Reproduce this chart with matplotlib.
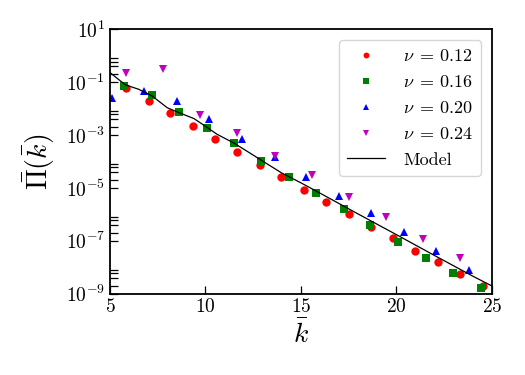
import matplotlib
matplotlib.use("Agg")
import matplotlib.pyplot as plt
import matplotlib.ticker as mticker
import numpy as np

plt.rcParams['font.family'] = 'serif'
plt.rcParams['font.serif'] = ['cmr10']
plt.rcParams['mathtext.fontset'] = 'cm'
plt.rcParams['axes.formatter.use_mathtext'] = True

# log10 of Pi(k) for each nu
# nu = 0.12
k_012 = [5.84, 7.02, 8.15, 9.35, 10.48, 11.67, 12.85, 13.98, 15.15, 16.33,
         17.50, 18.66, 19.81, 20.98, 22.16, 23.33, 24.51]
logp_012 = [-1.21, -1.70, -2.18, -2.65, -3.16, -3.63, -4.13, -4.60, -5.07, -5.54,
            -6.00, -6.48, -6.90, -7.37, -7.81, -8.25, -8.71]
# nu = 0.16
k_016 = [5.75, 7.18, 8.62, 10.07, 11.49, 12.92, 14.36, 15.81, 17.24, 18.63,
         20.10, 21.54, 22.98, 24.41]
logp_016 = [-1.13, -1.49, -2.12, -2.72, -3.31, -3.97, -4.60, -5.20, -5.80, -6.39,
            -7.06, -7.66, -8.22, -8.79]
# nu = 0.20
k_020 = [5.10, 6.79, 8.50, 10.19, 11.89, 13.63, 15.29, 17.01, 18.66, 20.37,
         22.08, 23.78]
logp_020 = [-1.59, -1.32, -1.71, -2.39, -3.15, -3.84, -4.57, -5.29, -5.96, -6.68,
            -7.40, -8.10]
# nu = 0.24
k_024 = [5.84, 7.80, 9.72, 11.67, 13.63, 15.58, 17.53, 19.46, 21.41, 23.33]
logp_024 = [-0.66, -0.50, -2.24, -2.94, -3.79, -4.51, -5.36, -6.12, -6.93, -7.66]

# model curve
k_model = [5.0, 5.8, 6.5, 7.2, 8.0, 8.6, 9.4, 10.0, 10.6, 11.5, 12.3, 13.0,
           14.0, 15.0, 16.0, 18.0, 20.0, 22.0, 24.0, 25.0]
logp_model = [-0.64, -1.10, -1.27, -1.52, -1.97, -2.15, -2.38, -2.67, -2.97, -3.31,
              -3.67, -3.99, -4.44, -4.81, -5.20, -5.99, -6.77, -7.56, -8.34, -8.71]

series = [
    (k_012, logp_012, 'red', 'o', r'$\nu\;=\,0.12$'),
    (k_016, logp_016, 'green', 's', r'$\nu\;=\,0.16$'),
    (k_020, logp_020, 'blue', '^', r'$\nu\;=\,0.20$'),
    (k_024, logp_024, 'm', 'v', r'$\nu\;=\,0.24$'),
]

major_y = [1e1, 1e-1, 1e-3, 1e-5, 1e-7, 1e-9]
minor_subs = [2, 4, 6, 8]

fig = plt.figure(figsize=(5.25, 3.75), dpi=100)
ax = fig.add_axes([0.2095, 0.217, 0.7275, 0.705])

for k, lp, c, m, lab in series:
    ax.plot(k, 10.0 ** np.array(lp), linestyle='none', marker=m, color=c,
            markersize=6, markeredgewidth=0, label=lab)
ax.plot(k_model, 10.0 ** np.array(logp_model), color='black', lw=0.9, label='Model')

ax.set_yscale('log')
ax.set_xlim(5, 25)
ax.set_ylim(1e-9, 1e1)
ax.set_xticks([5, 10, 15, 20, 25])
ax.yaxis.set_major_locator(mticker.FixedLocator(major_y))
ax.yaxis.set_minor_locator(mticker.FixedLocator(
    [s * v for v in major_y[1:] for s in minor_subs]))
ax.yaxis.set_minor_formatter(mticker.NullFormatter())

ax.tick_params(which='both', direction='in', top=False, right=False, labelsize=14)
ax.tick_params(which='both', length=5.5, width=0.9)
for s in ax.spines.values():
    s.set_linewidth(1.3)

ax.set_xlabel(r'$\bar{k}$', fontsize=20, labelpad=3)
ax.set_ylabel(r'$\bar{\Pi}(\bar{k})$', fontsize=20, labelpad=6)

ax.legend(loc='upper right', fontsize=13, numpoints=1, markerscale=0.7,
          handlelength=2.1, borderpad=0.45, labelspacing=0.55,
          handletextpad=1.0, borderaxespad=0.6)

fig.savefig('out.png', dpi=100)
